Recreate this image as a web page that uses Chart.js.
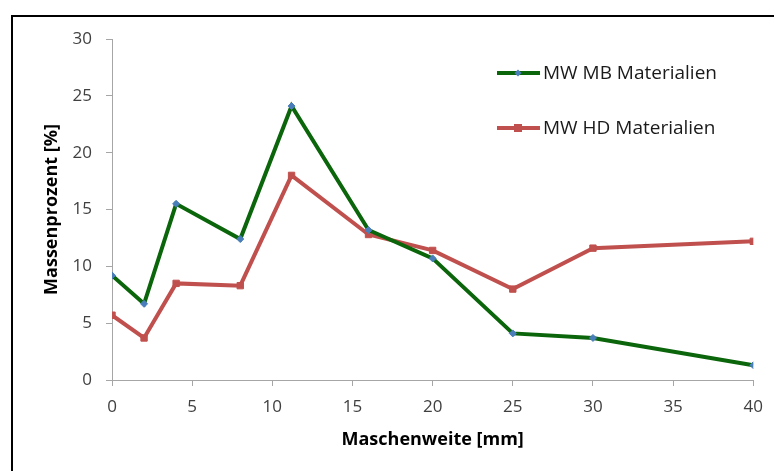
<!DOCTYPE html>
<html>
<head>
<meta charset="utf-8">
<script src="https://cdn.jsdelivr.net/npm/chart.js@4"></script>
<style>
  html, body { margin: 0; padding: 0; background: #fff; }
  #wrap { width: 774px; height: 471px; position: relative; }
</style>
</head>
<body>
<div id="wrap"><canvas id="chart" width="774" height="471"></canvas></div>
<script>
// =====================
// Data
// =====================

const maschenweite = [0, 2, 4, 8, 11.2, 16, 20, 25, 30, 40];
const mbValues = [9.2, 6.7, 15.5, 12.4, 24.1, 13.2, 10.7, 4.1, 3.7, 1.3];
const hdValues = [5.7, 3.7, 8.5, 8.3, 18.0, 12.8, 11.4, 8.0, 11.6, 12.2];
const seriesNames = ['MW MB Materialien', 'MW HD Materialien'];
const xTicks = [0, 5, 10, 15, 20, 25, 30, 35, 40];
const yTicks = [0, 5, 10, 15, 20, 25, 30];

const GREEN = '#0b650b';
const BLUE = '#4a7ebb';
const RED = '#c0504d';
const AXIS = '#a6a6a6';
const FONT = "'Open Sans', 'Liberation Sans', sans-serif";

// =====================
// Plugins
// =====================

// outer frame (only top and left edges visible in the picture)
const framePlugin = {
  id: 'frame',
  afterDraw(chart) {
    const ctx = chart.ctx;
    ctx.save();
    ctx.strokeStyle = '#000';
    ctx.lineWidth = 2;
    ctx.beginPath();
    ctx.moveTo(12, 471);
    ctx.lineTo(12, 16);
    ctx.lineTo(774, 16);
    ctx.stroke();
    ctx.restore();
  }
};

// legend drawn inside the plot, right side
const legendPlugin = {
  id: 'customLegend',
  afterDraw(chart) {
    const ctx = chart.ctx;
    const rows = [73, 128];
    ctx.save();
    chart.data.datasets.forEach((ds, i) => {
      const y = rows[i];
      ctx.strokeStyle = ds.borderColor;
      ctx.lineWidth = ds.borderWidth;
      ctx.beginPath();
      ctx.moveTo(497, y);
      ctx.lineTo(540, y);
      ctx.stroke();
      ctx.fillStyle = ds.pointBackgroundColor;
      if (ds.pointStyle === 'rect') {
        ctx.fillRect(518 - 4, y - 4, 8, 8);
      } else {
        ctx.beginPath();
        ctx.moveTo(518, y - 3.5);
        ctx.lineTo(521.5, y);
        ctx.lineTo(518, y + 3.5);
        ctx.lineTo(514.5, y);
        ctx.closePath();
        ctx.fill();
      }
      ctx.fillStyle = '#1a1a1a';
      ctx.font = '19px ' + FONT;
      ctx.textBaseline = 'middle';
      ctx.fillText(ds.label, 543, y + 1);
    });
    ctx.restore();
  }
};

// =====================
// Chart
// =====================

const ctx = document.getElementById('chart');

new Chart(ctx, {
  type: 'line',
  data: {
    datasets: [
      {
        label: seriesNames[0],
        data: maschenweite.map((x, i) => ({ x: x, y: mbValues[i] })),
        borderColor: GREEN,
        borderWidth: 4,
        pointStyle: 'rectRot',
        pointRadius: 3.5,
        pointBackgroundColor: BLUE,
        pointBorderColor: BLUE,
        pointBorderWidth: 1,
        tension: 0
      },
      {
        label: seriesNames[1],
        data: maschenweite.map((x, i) => ({ x: x, y: hdValues[i] })),
        borderColor: RED,
        borderWidth: 4,
        pointStyle: 'rect',
        pointRadius: 4.5,
        pointBackgroundColor: RED,
        pointBorderColor: RED,
        pointBorderWidth: 1,
        tension: 0
      }
    ]
  },
  options: {
    responsive: false,
    animation: false,
    layout: { padding: { left: 12, right: 20, top: 39, bottom: 11 } },
    plugins: {
      legend: { display: false },
      tooltip: { enabled: false }
    },
    scales: {
      x: {
        type: 'linear',
        min: 0,
        max: 40,
        afterBuildTicks: (scale) => { scale.ticks = xTicks.map(v => ({ value: v })); },
        afterFit: (scale) => { scale.height = 80; },
        ticks: { color: '#404040', font: { family: FONT, size: 17 }, padding: 11, maxRotation: 0 },
        grid: { display: true, drawOnChartArea: false, drawTicks: true, tickLength: 6, color: AXIS },
        border: { color: AXIS, width: 1 },
        title: {
          display: true,
          text: 'Maschenweite [mm]',
          color: '#000',
          font: { family: FONT, size: 18, weight: 'bold' },
          padding: { top: 0, bottom: 9 }
        }
      },
      y: {
        min: 0,
        max: 30,
        afterBuildTicks: (scale) => { scale.ticks = yTicks.map(v => ({ value: v })); },
        afterFit: (scale) => { scale.width = 100; },
        ticks: { color: '#404040', font: { family: FONT, size: 17 }, padding: 14 },
        grid: { display: true, drawOnChartArea: false, drawTicks: true, tickLength: 6, color: AXIS },
        border: { color: AXIS, width: 1 },
        title: {
          display: true,
          text: 'Massenprozent [%]',
          color: '#000',
          font: { family: FONT, size: 18, weight: 'bold' },
          padding: { top: 29, bottom: 0 }
        }
      }
    }
  },
  plugins: [framePlugin, legendPlugin]
});
</script>
</body>
</html>
